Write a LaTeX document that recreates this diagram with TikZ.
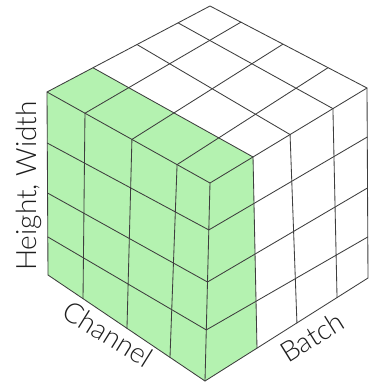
\documentclass[tikz,border=0pt]{standalone}
\usepackage{fontspec}
\setmainfont{Lato}[UprightFont=* Light]
\usetikzlibrary{calc}
\definecolor{slab}{RGB}{180,242,176}
\definecolor{edgec}{RGB}{62,62,62}
\definecolor{ink}{RGB}{30,30,30}
\begin{document}
\begin{tikzpicture}[x=1pt,y=-1pt,
  gridline/.style={draw=edgec,line width=0.85pt,line cap=round,line join=round},
  lbl/.style={font=\fontsize{28}{34}\selectfont,text=ink,inner sep=0pt}]
\fill[white] (0,0) rectangle (368,384);
\useasboundingbox (0,0) rectangle (368,384);
% cube corners
\coordinate (LT) at (47,92);
\coordinate (FT) at (210,183);
\coordinate (FB) at (205,381);
\coordinate (LB) at (48,275);
\coordinate (BK) at (210,6);
\coordinate (RT) at (367,88);
\coordinate (RB) at (368,278);
% grid points on the edges
\foreach \i/\t in {1/.233,2/.521,3/.798} \coordinate (lf\i) at ($(LT)!\t!(FT)$);
\foreach \i/\t in {1/.197,2/.465,3/.752} \coordinate (br\i) at ($(BK)!\t!(RT)$);
\foreach \i/\t in {1/.282,2/.552,3/.804} \coordinate (lb\i) at ($(LT)!\t!(BK)$);
\foreach \i/\t in {1/.274,2/.510,3/.783} \coordinate (fr\i) at ($(FT)!\t!(RT)$);
\foreach \i/\t in {1/.223,2/.503,3/.777} \coordinate (bl\i) at ($(LB)!\t!(FB)$);
\foreach \i/\t in {1/.279,2/.552,3/.792} \coordinate (le\i) at ($(LT)!\t!(LB)$);
\foreach \i/\t in {1/.237,2/.500,3/.742} \coordinate (fe\i) at ($(FT)!\t!(FB)$);
\foreach \i/\t in {1/.258,2/.526,3/.784} \coordinate (re\i) at ($(RT)!\t!(RB)$);
\foreach \i/\t in {1/.319,2/.564,3/.810} \coordinate (rb\i) at ($(FB)!\t!(RB)$);
% green slab (first batch element)
\fill[slab] (LT) -- (lb1) -- (fr1) -- (rb1) -- (FB) -- (LB) -- cycle;
% inner grid lines
\foreach \i in {1,2,3} {
  \draw[gridline] (lf\i) -- (br\i);
  \draw[gridline] (lb\i) -- (fr\i);
  \draw[gridline] (le\i) -- (fe\i);
  \draw[gridline] (lf\i) -- (bl\i);
  \draw[gridline] (fe\i) -- (re\i);
  \draw[gridline] (fr\i) -- (rb\i);
}
% outline
\draw[gridline] (LT) -- (BK) -- (RT) -- (RB) -- (FB) -- (LB) -- cycle;
\draw[gridline] (LT) -- (FT) -- (RT);
\draw[gridline] (FT) -- (FB);
% labels
\node[lbl,rotate=90,anchor=base] (hw) at (37,186) {Height, Width};
\node[lbl,rotate=-32] (ch) at (108,334) {Channel};
\node[lbl,rotate=32] (ba) at (312,337) {Batch};
\end{tikzpicture}
\end{document}
